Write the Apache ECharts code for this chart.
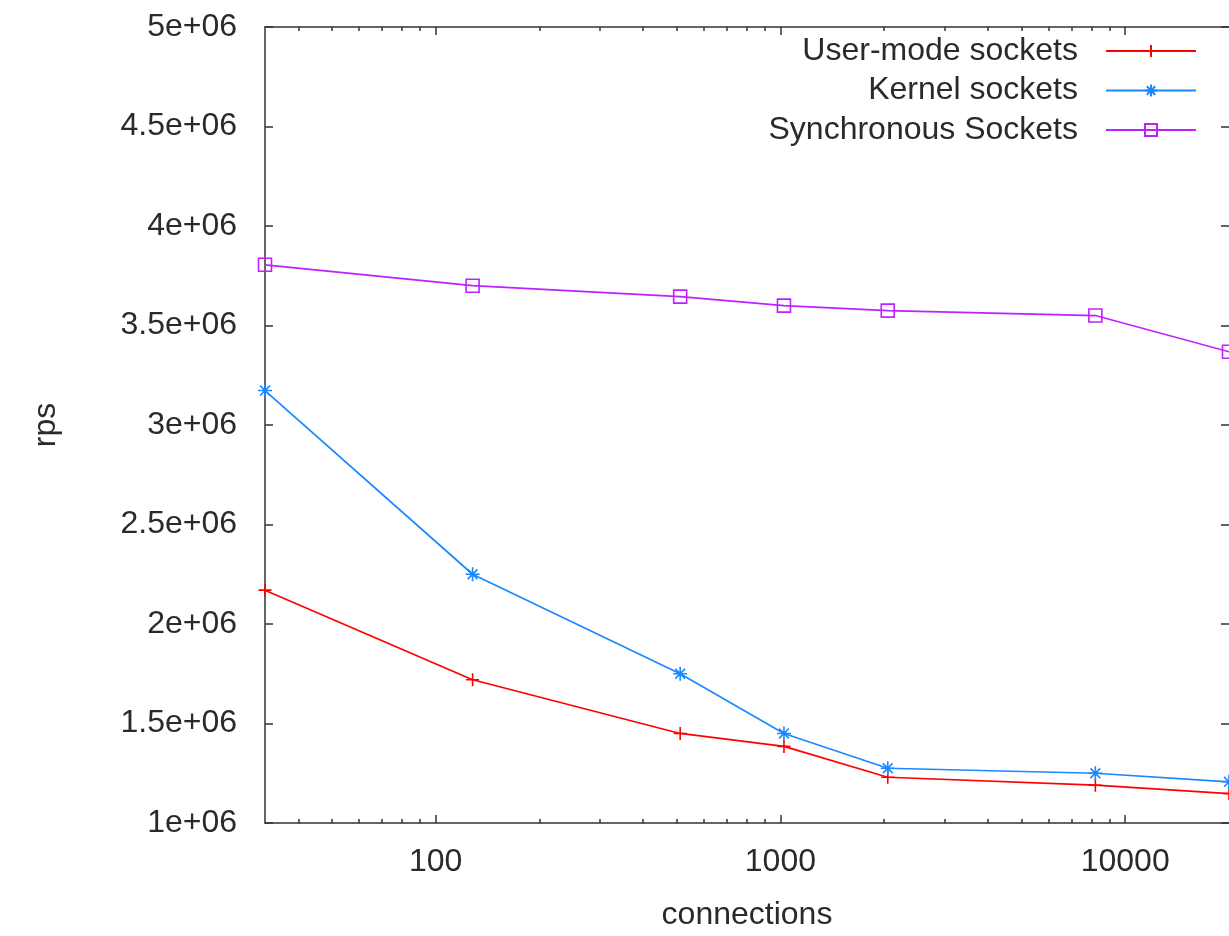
<!DOCTYPE html>
<html>
<head>
<meta charset="utf-8">
<script src="https://cdn.jsdelivr.net/npm/echarts@6/dist/echarts.min.js"></script>
<style>
html,body{margin:0;padding:0;background:#fff;overflow:hidden}
#chart{width:1229px;height:936px}
</style>
</head>
<body>
<div id="chart"></div>
<script>
// ---- data ----
const connections = [32, 128, 512, 1024, 2048, 8192, 20000];
const userModeRps = [2170000, 1720000, 1450000, 1385000, 1230000, 1190000, 1148000];
const kernelRps   = [3173000, 2250000, 1750000, 1450000, 1275000, 1250000, 1207000];
const syncRps     = [3805000, 3700000, 3645000, 3600000, 3575000, 3550000, 3368000];
const seriesNames = ['User-mode sockets', 'Kernel sockets', 'Synchronous Sockets'];

const xMajorTicks  = [100, 1000, 10000];
const xMajorLabels = ['100', '1000', '10000'];
const xMinorTicks  = [40, 50, 60, 70, 80, 90,
                      200, 300, 400, 500, 600, 700, 800, 900,
                      2000, 3000, 4000, 5000, 6000, 7000, 8000, 9000];
const yTickValues  = [1000000, 1500000, 2000000, 2500000, 3000000, 3500000, 4000000, 4500000, 5000000];
const yTickLabels  = ['1e+06', '1.5e+06', '2e+06', '2.5e+06', '3e+06', '3.5e+06', '4e+06', '4.5e+06', '5e+06'];

const xMin = 32, xMax = 20000;
const yMin = 1000000, yMax = 5000000, yStep = 500000;

// ---- styles ----
const FONT = "'Liberation Sans', Arial, sans-serif";
const FS = 32;
const TXT = '#2a2a2a';
const AX = { color: '#333', width: 1.5 };
const colors = ['#ff0000', '#1a88ff', '#c020ff'];
const symbols = [
  'path://M0,6L12,6M6,0L6,12',
  'path://M0,6L12,6M6,0L6,12M1.8,1.8L10.2,10.2M1.8,10.2L10.2,1.8',
  'path://M0,0L12,0L12,12L0,12Z'
];
const symbolSizes = [13, 14, 13];
const values = [userModeRps, kernelRps, syncRps];

function xAxisDef(pos, major, withLabels) {
  return {
    type: 'log', logBase: 10, position: pos, min: xMin, max: xMax,
    axisLine: { show: major, onZero: false, lineStyle: AX },
    axisTick: { show: true, inside: true, length: major ? 8 : 4, lineStyle: AX,
                customValues: major ? xMajorTicks : xMinorTicks },
    axisLabel: withLabels ? {
      show: true, customValues: xMajorTicks, margin: 23,
      fontSize: FS, fontFamily: FONT, color: TXT,
      formatter: v => { const i = xMajorTicks.indexOf(Math.round(v)); return i >= 0 ? xMajorLabels[i] : String(v); }
    } : { show: false },
    splitLine: { show: false }, minorTick: { show: false },
    name: withLabels ? 'connections' : '',
    nameLocation: 'middle', nameGap: 76,
    nameTextStyle: { fontSize: FS, fontFamily: FONT, color: TXT }
  };
}

const chart = echarts.init(document.getElementById('chart'), null, { renderer: 'canvas' });
chart.setOption({
  animation: false,
  backgroundColor: '#fff',
  grid: { left: 265, right: 0, top: 27, bottom: 112, containLabel: false },
  legend: {
    orient: 'vertical', right: 32, top: 35, align: 'right',
    itemWidth: 90, itemHeight: 15, itemGap: 7.5, padding: 0,
    selectedMode: false, data: seriesNames,
    textStyle: { fontSize: FS, fontFamily: FONT, color: TXT, lineHeight: 30, padding: [0, 23, 0, 0] }
  },
  xAxis: [
    xAxisDef('bottom', true, true),
    xAxisDef('bottom', false, false),
    xAxisDef('top', true, false),
    xAxisDef('top', false, false)
  ],
  yAxis: [
    {
      type: 'value', position: 'left', min: yMin, max: yMax, interval: yStep,
      axisLine: { show: true, onZero: false, lineStyle: AX },
      axisTick: { show: true, inside: true, length: 8, lineStyle: AX },
      axisLabel: { margin: 28, fontSize: FS, fontFamily: FONT, color: TXT,
        formatter: v => { const i = yTickValues.indexOf(v); return i >= 0 ? yTickLabels[i] : String(v); } },
      splitLine: { show: false },
      name: 'rps', nameLocation: 'middle', nameGap: 203, nameRotate: 90,
      nameTextStyle: { fontSize: FS, fontFamily: FONT, color: TXT }
    },
    {
      type: 'value', position: 'right', min: yMin, max: yMax, interval: yStep,
      axisLine: { show: false, onZero: false, lineStyle: AX },
      axisTick: { show: true, inside: true, length: 8, lineStyle: AX },
      axisLabel: { show: false }, splitLine: { show: false }
    }
  ],
  series: seriesNames.map((name, k) => ({
    name, type: 'line', xAxisIndex: 0, yAxisIndex: 0,
    data: connections.map((c, i) => [c, values[k][i]]),
    symbol: symbols[k], symbolSize: symbolSizes[k], showAllSymbol: true, symbolKeepAspect: true,
    lineStyle: { color: colors[k], width: 1.7 },
    itemStyle: { color: 'rgba(255,255,255,0)', borderColor: colors[k], borderWidth: 1.6 },
    emphasis: { disabled: true },
    clip: false
  }))
});
</script>
</body>
</html>
